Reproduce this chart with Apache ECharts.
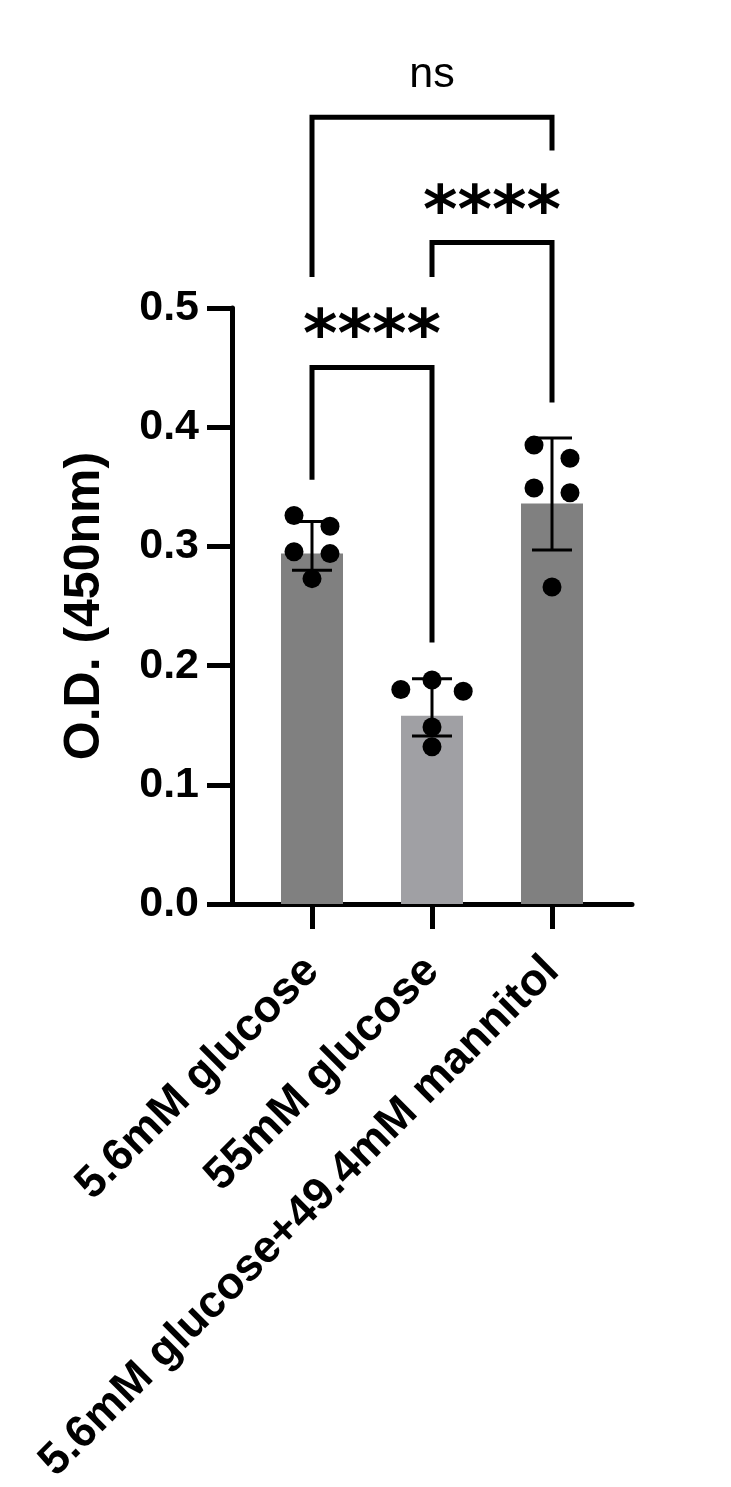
<!DOCTYPE html>
<html>
<head>
<meta charset="utf-8">
<script src="https://cdn.jsdelivr.net/npm/echarts@6/dist/echarts.min.js"></script>
<style>
html,body{margin:0;padding:0;background:#fff;}
#chart{width:731px;height:1487px;}
</style>
</head>
<body>
<div id="chart"></div>
<script>
// ---- data ----
const categories = ['5.6mM glucose', '55mM glucose', '5.6mM glucose+49.4mM mannitol'];
const means = [0.294, 0.158, 0.336];
const errLow = [0.280, 0.141, 0.297];
const errHigh = [0.321, 0.189, 0.391];
const points1 = [0.326, 0.317, 0.2955, 0.294, 0.273];
const points2 = [0.180, 0.188, 0.1786, 0.1486, 0.132];
const points3 = [0.385, 0.374, 0.349, 0.345, 0.266];
const yTickLabels = ['0.0', '0.1', '0.2', '0.3', '0.4', '0.5'];
const comparisons = [
  { from: 0, to: 1, label: '****' },
  { from: 1, to: 2, label: '****' },
  { from: 0, to: 2, label: 'ns' }
];

// ---- layout / style (not data) ----
const jitter1 = [-0.15, 0.15, -0.15, 0.15, 0];
const jitter2 = [-0.26, 0, 0.26, 0, 0];
const jitter3 = [-0.15, 0.15, -0.15, 0.15, 0];
const barColors = ['#808080', '#a0a0a4', '#808080'];
// bracket geometry in axis units: [left leg bottom, top, right leg bottom, label y]
const bracketLevels = [
  [0.356, 0.450, 0.2195, 0.474],
  [0.526, 0.555, 0.4207, 0.578],
  [0.526, 0.660, 0.632, 0.695]
];

const allPoints = [points1, points2, points3];
const allJitter = [jitter1, jitter2, jitter3];
const scatterData = [];
allPoints.forEach((arr, i) => arr.forEach((v, k) => scatterData.push([i + allJitter[i][k], v])));

const series = [];
series.push({
  type: 'bar',
  data: means.map((m, i) => ({ value: [i, m], itemStyle: { color: barColors[i] } })),
  barWidth: 62,
  z: 1
});
series.push({
  type: 'custom',
  z: 3,
  data: means.map((m, i) => [i, errLow[i], errHigh[i]]),
  renderItem: function (params, api) {
    const x = api.value(0);
    const lo = api.coord([x, api.value(1)]);
    const hi = api.coord([x, api.value(2)]);
    const hw = 20;
    const st = { stroke: '#000', lineWidth: 3 };
    return {
      type: 'group',
      children: [
        { type: 'line', shape: { x1: lo[0], y1: lo[1], x2: hi[0], y2: hi[1] }, style: st },
        { type: 'line', shape: { x1: lo[0] - hw, y1: lo[1], x2: lo[0] + hw, y2: lo[1] }, style: st },
        { type: 'line', shape: { x1: hi[0] - hw, y1: hi[1], x2: hi[0] + hw, y2: hi[1] }, style: st }
      ]
    };
  }
});
series.push({
  type: 'scatter',
  data: scatterData,
  symbol: 'circle',
  symbolSize: 19,
  itemStyle: { color: '#000', opacity: 1 },
  z: 4
});
comparisons.forEach((c, i) => {
  const lv = bracketLevels[i];
  series.push({
    type: 'line',
    data: [[c.from, lv[0]], [c.from, lv[1]], [c.to, lv[1]], [c.to, lv[2]]],
    symbol: 'none',
    clip: false,
    lineStyle: { color: '#000', width: 5, join: 'miter', cap: 'butt', opacity: 1 },
    z: 5
  });
  const isStar = c.label.indexOf('*') >= 0;
  series.push({
    type: 'scatter',
    data: [[(c.from + c.to) / 2, lv[3], c.label]],
    symbol: 'circle',
    symbolSize: 0,
    clip: false,
    itemStyle: { color: '#000', opacity: 1 },
    label: {
      show: true,
      position: 'inside',
      formatter: p => p.value[2],
      color: '#000',
      opacity: 1,
      textBorderWidth: 0,
      fontFamily: isStar ? 'DejaVu Sans' : 'Liberation Sans',
      fontWeight: isStar ? 'bold' : 'normal',
      fontSize: isStar ? 66 : 43
    },
    z: 6
  });
});

const chart = echarts.init(document.getElementById('chart'), null, { renderer: 'canvas' });
chart.setOption({
  animation: false,
  backgroundColor: '#fff',
  grid: { left: 232, top: 308, width: 400, height: 599, containLabel: false },
  xAxis: {
    type: 'value',
    min: -2 / 3,
    max: 8 / 3,
    splitLine: { show: false },
    axisLine: { show: true, onZero: false, lineStyle: { color: '#000', width: 5 } },
    axisTick: { show: true, customValues: [0, 1, 2], length: 25, inside: false, lineStyle: { color: '#000', width: 5 } },
    axisLabel: {
      show: true,
      customValues: [0, 1, 2],
      formatter: v => categories[Math.round(v)],
      rotate: 45,
      margin: 60,
      color: '#000',
      fontFamily: 'Liberation Sans',
      fontWeight: 'bold',
      fontSize: 45,
      hideOverlap: false
    }
  },
  yAxis: {
    type: 'value',
    min: 0,
    max: 0.5,
    interval: 0.1,
    splitLine: { show: false },
    axisLine: { show: true, onZero: false, lineStyle: { color: '#000', width: 5 } },
    axisTick: { show: true, length: 25, inside: false, lineStyle: { color: '#000', width: 5 } },
    axisLabel: {
      margin: 33,
      formatter: v => yTickLabels[Math.round(v * 10)],
      color: '#000',
      fontFamily: 'Liberation Sans',
      fontWeight: 'bold',
      fontSize: 43
    },
    name: 'O.D. (450nm)',
    nameLocation: 'middle',
    nameRotate: 90,
    nameGap: 122,
    nameTextStyle: { color: '#000', fontFamily: 'Liberation Sans', fontWeight: 'bold', fontSize: 50 }
  },
  series: series
});
</script>
</body>
</html>
